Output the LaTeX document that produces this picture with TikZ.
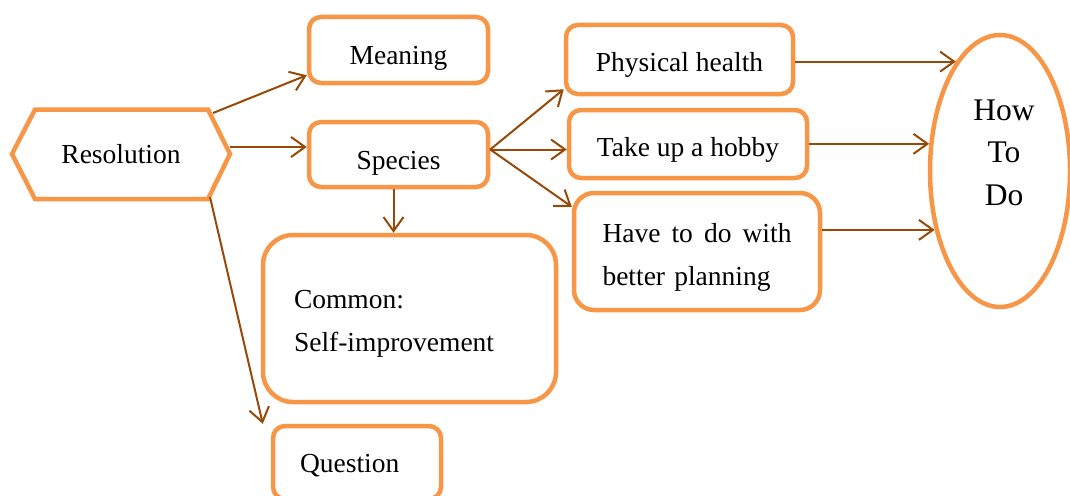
\documentclass[tikz,border=0pt]{standalone}
\usepackage{fontspec}
\setmainfont{Liberation Serif}
\usetikzlibrary{arrows.meta,shapes.geometric}
\definecolor{boxc}{HTML}{F79646}
\definecolor{arrc}{HTML}{984807}
\begin{document}
\begin{tikzpicture}[x=1pt,y=-1pt,
  every node/.style={font=\fontsize{27.5}{42.5}\selectfont, text=black},
  box/.style={draw=boxc, line width=4.5pt, rounded corners=12pt, fill=white, inner sep=0pt},
  arr/.style={draw=arrc, line width=2pt, -{Straight Barb[length=14pt,width=20pt]}},
  lift/.style={text depth=0pt, text height=#1}]
\useasboundingbox (0,0) rectangle (1070,495);
% hexagon
\draw[draw=boxc, line width=4.5pt, fill=white, line join=miter]
  (12,154) -- (35,109.5) -- (208,109.5) -- (230,154) -- (208,199) -- (35,199) -- cycle;
\node[lift=19pt] (res) at (121,154) {Resolution};
\coordinate (h1) at (213,113);
\coordinate (h2) at (230,147);
\coordinate (h3) at (210,197);
% boxes
\node[box, minimum width=179pt, minimum height=66pt, lift=28pt] (me) at (398.5,50) {Meaning};
\node[box, minimum width=179pt, minimum height=65pt, lift=29pt] (sp) at (398.5,154.5) {Species};
\node[box, minimum width=227pt, minimum height=69pt, lift=23pt] (ph) at (679.5,59.5) {Physical health};
\node[box, minimum width=238pt, minimum height=68pt, lift=24pt] (hb) at (688,144) {Take up a hobby};
\node[box, rounded corners=20pt, minimum height=117pt, text width=189pt, inner xsep=28.5pt, align=left] (hv) at (697,251.5) {\rule{0pt}{31pt}Have\hfill to\hfill do\hfill with\\better planning};
\node[box, rounded corners=30pt, minimum height=167pt, text width=231pt, inner xsep=31pt, align=left] (cm) at (409.5,318.5) {\rule{0pt}{29pt}Common:\\Self-improvement};
\node[box, minimum height=73pt, text width=114pt, inner xsep=27pt, align=left, lift=19pt] (q) at (357,462.5) {Question};
% ellipse
\node[draw=boxc, line width=4.5pt, ellipse, minimum width=140pt, minimum height=272pt, inner sep=0pt,
  label={[xshift=4pt, yshift=18.5pt, align=center, font=\fontsize{31.5}{42.5}\selectfont]center:How\\To\\Do}] (how) at (1000,171) {};
% connectors
\draw[arr] (h1) -- ([yshift=10pt]me.south west);
\draw[arr] (h2) -- (h2 -| sp.west);
\draw[arr] (h3) -- ([xshift=-8pt]q.north west);
\coordinate (s1) at ([xshift=-5pt]sp.south);
\draw[arr] (s1) -- (s1 |- cm.north);
\coordinate (s2) at ([yshift=5pt]sp.east);
\draw[arr] (s2) -- ([yshift=7pt]ph.south west);
\draw[arr] (s2) -- (s2 -| hb.west);
\draw[arr] (s2) -- ([yshift=-16pt]hv.north west);
\draw[arr] (ph.east |- how.112) -- (how.112);
\draw[arr] (hb.east |- how.159) -- (how.159);
\draw[arr] (hv.east |- how.222) -- (how.222);
\end{tikzpicture}
\end{document}
